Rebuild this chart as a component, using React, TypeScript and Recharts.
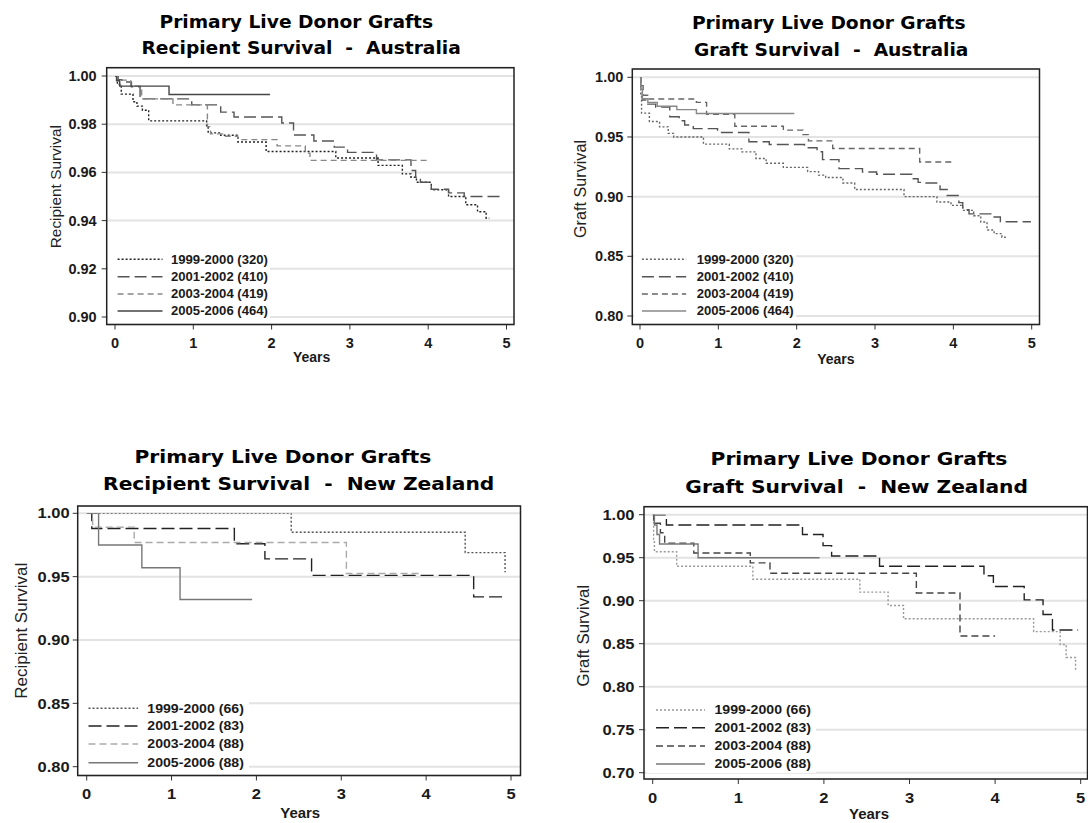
import React from 'react';
import { LineChart, Line, XAxis, YAxis, CartesianGrid, Legend } from 'recharts';

type Pt = [number, number];

// ---------- categories / tick labels ----------
const cohortsAU = ['1999-2000 (320)', '2001-2002 (410)', '2003-2004 (419)', '2005-2006 (464)'];
const cohortsNZ = ['1999-2000 (66)', '2001-2002 (83)', '2003-2004 (88)', '2005-2006 (88)'];
const yearTicks = [0, 1, 2, 3, 4, 5];
const ticksAuRecip = [0.9, 0.92, 0.94, 0.96, 0.98, 1.0];
const ticksAuGraft = [0.8, 0.85, 0.9, 0.95, 1.0];
const ticksNzRecip = [0.8, 0.85, 0.9, 0.95, 1.0];
const ticksNzGraft = [0.7, 0.75, 0.8, 0.85, 0.9, 0.95, 1.0];

// ---------- series: [years, survival] (step-after) ----------
const auRecip1999: Pt[] = [[0, 1], [0.03, 0.9965], [0.08, 0.9925], [0.23, 0.9893], [0.28, 0.9875], [0.35, 0.9858], [0.43, 0.9814], [1.17, 0.9789], [1.19, 0.9764], [1.35, 0.9754], [1.57, 0.9726], [1.93, 0.9687], [2.82, 0.966], [3.36, 0.9629], [3.67, 0.9594], [3.78, 0.958], [3.85, 0.9559], [4.04, 0.9528], [4.26, 0.95], [4.48, 0.9466], [4.63, 0.9437], [4.74, 0.941], [4.78, 0.941]];
const auRecip2001: Pt[] = [[0, 1], [0.04, 0.9985], [0.09, 0.9975], [0.21, 0.9955], [0.32, 0.9905], [0.98, 0.988], [1.35, 0.985], [1.52, 0.983], [2.13, 0.9805], [2.28, 0.9755], [2.54, 0.973], [2.8, 0.9705], [2.97, 0.9683], [3.34, 0.9652], [3.78, 0.9608], [3.84, 0.958], [3.9, 0.9559], [4.04, 0.953], [4.26, 0.9515], [4.46, 0.95], [4.96, 0.95]];
const auRecip2003: Pt[] = [[0, 1], [0.03, 0.9983], [0.2, 0.9958], [0.34, 0.9905], [0.74, 0.988], [1.18, 0.979], [1.22, 0.976], [1.4, 0.975], [1.57, 0.9736], [2.07, 0.971], [2.43, 0.968], [2.49, 0.965], [3.98, 0.965]];
const auRecip2005: Pt[] = [[0, 1], [0.02, 0.998], [0.06, 0.9958], [0.69, 0.9923], [1.98, 0.9923]];

const auGraft1999: Pt[] = [[0, 1], [0.01, 0.985], [0.02, 0.97], [0.12, 0.963], [0.25, 0.9585], [0.36, 0.953], [0.43, 0.95], [0.81, 0.944], [1.14, 0.94], [1.3, 0.9375], [1.48, 0.932], [1.61, 0.928], [1.83, 0.9245], [2.14, 0.921], [2.28, 0.918], [2.37, 0.916], [2.59, 0.9115], [2.74, 0.906], [3.37, 0.9], [3.79, 0.8955], [3.97, 0.8927], [4.12, 0.8885], [4.26, 0.884], [4.35, 0.8787], [4.43, 0.872], [4.52, 0.869], [4.62, 0.866], [4.67, 0.866]];
const auGraft2001: Pt[] = [[0, 1], [0.01, 0.988], [0.03, 0.981], [0.1, 0.9775], [0.2, 0.975], [0.38, 0.967], [0.5, 0.9636], [0.57, 0.96], [0.68, 0.957], [0.99, 0.9538], [1.39, 0.946], [1.65, 0.9437], [2.1, 0.941], [2.26, 0.9376], [2.33, 0.931], [2.54, 0.9235], [2.84, 0.9207], [3.02, 0.9188], [3.47, 0.915], [3.55, 0.912], [3.6, 0.9115], [3.83, 0.906], [3.92, 0.901], [4.07, 0.895], [4.12, 0.889], [4.2, 0.8856], [4.52, 0.883], [4.6, 0.879], [4.99, 0.879]];
const auGraft2003: Pt[] = [[0, 1], [0.01, 0.993], [0.04, 0.985], [0.1, 0.9818], [0.72, 0.979], [0.85, 0.969], [1.21, 0.959], [1.83, 0.9557], [2.08, 0.952], [2.15, 0.9467], [2.46, 0.9403], [3.57, 0.929], [4.0, 0.929]];
const auGraft2005: Pt[] = [[0, 1], [0.01, 0.99], [0.03, 0.982], [0.1, 0.979], [0.22, 0.9757], [0.47, 0.9729], [0.72, 0.9697], [1.97, 0.9697]];

const nzRecip1999: Pt[] = [[0, 1], [2.41, 0.985], [4.46, 0.969], [4.93, 0.954], [4.94, 0.954]];
const nzRecip2001: Pt[] = [[0, 1], [0.06, 0.988], [1.74, 0.976], [2.1, 0.964], [2.65, 0.951], [4.56, 0.934], [4.95, 0.934]];
const nzRecip2003: Pt[] = [[0, 1], [0.07, 0.989], [0.56, 0.977], [3.06, 0.9525], [3.95, 0.9525]];
const nzRecip2005: Pt[] = [[0, 1], [0.14, 0.975], [0.65, 0.957], [1.1, 0.932], [1.95, 0.932]];

const nzGraft1999: Pt[] = [[0, 1], [0.01, 0.97], [0.02, 0.957], [0.28, 0.94], [1.17, 0.925], [2.42, 0.91], [2.75, 0.8945], [2.93, 0.879], [4.45, 0.864], [4.76, 0.849], [4.83, 0.834], [4.94, 0.819], [4.95, 0.819]];
const nzGraft2001: Pt[] = [[0, 1], [0.16, 0.988], [1.75, 0.977], [1.99, 0.964], [2.09, 0.952], [2.65, 0.94], [3.87, 0.929], [3.98, 0.9165], [4.34, 0.901], [4.56, 0.884], [4.67, 0.866], [4.97, 0.866]];
const nzGraft2003: Pt[] = [[0, 1], [0.01, 0.99], [0.09, 0.979], [0.14, 0.967], [0.48, 0.9555], [1.14, 0.944], [1.37, 0.932], [3.08, 0.909], [3.59, 0.859], [4.0, 0.859]];
const nzGraft2005: Pt[] = [[0, 1], [0.02, 0.988], [0.05, 0.977], [0.08, 0.966], [0.53, 0.95], [1.95, 0.95]];

const FONT = '"Liberation Sans", Arial, sans-serif';
const TFONT = '"DejaVu Sans", sans-serif';
const YW = 50;
const XH = 40;

const toRows = (pts: Pt[]) => pts.map(([t, s]) => ({ t, s }));

type Sty = { c: string; d: string };

const panels = [
  {
    key: 'p1',
    box: { left: 0, top: 60, w: 540, h: 320 },
    frame: { L: 106.7, R: 514, T: 67.7, B: 324.5 },
    x0: 115, x5: 506.5, yTop: 76, yBot: 317,
    yDomain: [0.9, 1.0], yTicks: ticksAuRecip,
    series: [auRecip1999, auRecip2001, auRecip2003, auRecip2005],
    names: cohortsAU,
    styles: [{ c: '#222', d: '2 2' }, { c: '#555', d: '12 5' }, { c: '#888', d: '6 4' }, { c: '#444', d: '' }] as Sty[],
    tickFs: 14.5, tickSx: 1, yTickMargin: 5, xTickMargin: 8.5,
    title: ['Primary Live Donor Grafts', 'Recipient Survival  -  Australia'],
    titlePos: [[159.5, 27.7], [141.5, 54.3]], titleFs: 17.5, titleSx: 1.065,
    years: [311.6, 361.7], yearsFs: 14, yearsSx: 1,
    ylab: 'Recipient Survival', ylabPos: [61.1, 186.7], ylabFs: 15.4,
    legend: { x: 108.2, y: 250, w: 162, h: 70, l1: 117.8, l2: 162.7, tx: 171.2, rows: [259.3, 276.7, 294, 311], fs: 12.5, sx: 1.05 },
  },
  {
    key: 'p2',
    box: { left: 540, top: 60, w: 548, h: 320 },
    frame: { L: 632.3, R: 1039.5, T: 69, B: 324.5 },
    x0: 640, x5: 1031.7, yTop: 77.3, yBot: 316,
    yDomain: [0.8, 1.0], yTicks: ticksAuGraft,
    series: [auGraft1999, auGraft2001, auGraft2003, auGraft2005],
    names: cohortsAU,
    styles: [{ c: '#666', d: '2 2' }, { c: '#555', d: '12 5' }, { c: '#666', d: '6 4' }, { c: '#888', d: '' }] as Sty[],
    tickFs: 14.5, tickSx: 1, yTickMargin: 4, xTickMargin: 8.8,
    title: ['Primary Live Donor Grafts', 'Graft Survival  -  Australia'],
    titlePos: [[691.9, 29.2], [694, 55.8]], titleFs: 17.5, titleSx: 1.065,
    years: [835.9, 364], yearsFs: 14, yearsSx: 1,
    ylab: 'Graft Survival', ylabPos: [585.5, 189], ylabFs: 16.2,
    legend: { x: 633.8, y: 250, w: 162, h: 70, l1: 641.7, l2: 686, tx: 696.5, rows: [259.3, 276.7, 294, 311], fs: 12.5, sx: 1.05 },
  },
  {
    key: 'p3',
    box: { left: 0, top: 495, w: 540, h: 328 },
    frame: { L: 77.7, R: 520.5, T: 506, B: 775.5 },
    x0: 86.7, x5: 511, yTop: 513.3, yBot: 766.7,
    yDomain: [0.8, 1.0], yTicks: ticksNzRecip,
    series: [nzRecip1999, nzRecip2001, nzRecip2003, nzRecip2005],
    names: cohortsNZ,
    styles: [{ c: '#555', d: '2 2' }, { c: '#222', d: '13 5' }, { c: '#aaa', d: '7 4' }, { c: '#777', d: '' }] as Sty[],
    tickFs: 15, tickSx: 1.1, yTickMargin: 3.1, xTickMargin: 7.8,
    title: ['Primary Live Donor Grafts', 'Recipient Survival  -  New Zealand'],
    titlePos: [[134.5, 463.4], [103.1, 490]], titleFs: 18.3, titleSx: 1.105,
    years: [300.2, 817.5], yearsFs: 14, yearsSx: 1.07,
    ylab: 'Recipient Survival', ylabPos: [27.1, 630.7], ylabFs: 17,
    legend: { x: 79.2, y: 698, w: 170, h: 74, l1: 88.7, l2: 138.3, tx: 147.5, rows: [708.3, 726, 744, 762.7], fs: 12.5, sx: 1.13 },
  },
  {
    key: 'p4',
    box: { left: 540, top: 495, w: 560, h: 328 },
    frame: { L: 644, R: 1087.5, T: 506.7, B: 779 },
    x0: 652.7, x5: 1080.7, yTop: 514.7, yBot: 772.7,
    yDomain: [0.7, 1.0], yTicks: ticksNzGraft,
    series: [nzGraft1999, nzGraft2001, nzGraft2003, nzGraft2005],
    names: cohortsNZ,
    styles: [{ c: '#999', d: '2 2' }, { c: '#222', d: '13 5' }, { c: '#444', d: '7 4' }, { c: '#777', d: '' }] as Sty[],
    tickFs: 15, tickSx: 1.1, yTickMargin: 4.5, xTickMargin: 9,
    title: ['Primary Live Donor Grafts', 'Graft Survival  -  New Zealand'],
    titlePos: [[710.6, 465], [685.3, 492.7]], titleFs: 18.3, titleSx: 1.105,
    years: [869, 818.5], yearsFs: 14, yearsSx: 1.07,
    ylab: 'Graft Survival', ylabPos: [588.7, 635.7], ylabFs: 16.8,
    legend: { x: 645.5, y: 700, w: 170, h: 73, l1: 655.5, l2: 704.5, tx: 714, rows: [710, 727.7, 746, 764], fs: 12.5, sx: 1.13 },
  },
];

function XTick(props: any) {
  const { x, y, payload, fs, sx } = props;
  return (
    <text transform={`translate(${x},${y + 0.69 * fs}) scale(${sx},1)`} textAnchor="middle"
      fontFamily={FONT} fontWeight="bold" fontSize={fs} fill="#1a1a1a">{String(payload.value)}</text>
  );
}

function YTick(props: any) {
  const { x, y, payload, fs, sx } = props;
  return (
    <text transform={`translate(${x},${y + 0.345 * fs}) scale(${sx},1)`} textAnchor="end"
      fontFamily={FONT} fontWeight="bold" fontSize={fs} fill="#1a1a1a">{Number(payload.value).toFixed(2)}</text>
  );
}

function LegendBox({ p }: { p: any }) {
  const lg = p.legend;
  return (
    <svg width={lg.w} height={lg.h} style={{ display: 'block', background: '#fff' }}>
      {p.names.map((n: string, i: number) => {
        const cy = lg.rows[i] - lg.y;
        const st: Sty = p.styles[i];
        return (
          <g key={n}>
            <line x1={lg.l1 - lg.x} x2={lg.l2 - lg.x} y1={cy} y2={cy} stroke={st.c} strokeWidth={1.4}
              strokeDasharray={st.d || undefined} />
            <text transform={`translate(${lg.tx - lg.x},${cy + 0.345 * lg.fs}) scale(${lg.sx},1)`}
              fontFamily={FONT} fontWeight="bold" fontSize={lg.fs} fill="#1a1a1a">{n}</text>
          </g>
        );
      })}
    </svg>
  );
}

function Panel({ p }: { p: any }) {
  const { box, frame } = p;
  const margin = {
    left: frame.L - box.left - YW,
    top: frame.T - box.top,
    right: box.left + box.w - frame.R,
    bottom: box.top + box.h - frame.B - XH,
  };
  return (
    <div style={{ position: 'absolute', left: box.left, top: box.top, width: box.w, height: box.h }}>
      <LineChart width={box.w} height={box.h} margin={margin}>
        <CartesianGrid vertical={false} stroke="#e3e3e3" strokeWidth={2} />
        <XAxis type="number" dataKey="t" domain={[0, 5]} ticks={yearTicks} interval={0} allowDataOverflow
          axisLine={false} tickLine={{ stroke: '#333' }} tickSize={5} tickMargin={p.xTickMargin} height={XH}
          padding={{ left: p.x0 - frame.L, right: frame.R - p.x5 }}
          tick={(tp: any) => <XTick {...tp} fs={p.tickFs} sx={p.tickSx} />} />
        <YAxis type="number" domain={p.yDomain} ticks={p.yTicks} interval={0} allowDataOverflow
          axisLine={false} tickLine={{ stroke: '#333' }} tickSize={5} tickMargin={p.yTickMargin} width={YW}
          padding={{ top: p.yTop - frame.T, bottom: frame.B - p.yBot }}
          tick={(tp: any) => <YTick {...tp} fs={p.tickFs} sx={p.tickSx} />} />
        {p.series.map((s: Pt[], i: number) => (
          <Line key={p.names[i]} name={p.names[i]} data={toRows(s)} dataKey="s" type="stepAfter"
            stroke={p.styles[i].c} strokeWidth={1.4} strokeDasharray={p.styles[i].d || undefined}
            dot={false} activeDot={false} isAnimationActive={false} />
        ))}
        <Legend layout="vertical" align="center" verticalAlign="middle"
          wrapperStyle={{ left: p.legend.x - box.left, top: p.legend.y - box.top, width: p.legend.w, height: p.legend.h, margin: 0, padding: 0 }}
          content={() => <LegendBox p={p} />} />
      </LineChart>
    </div>
  );
}

function Overlay() {
  return (
    <svg width={1088} height={823} style={{ position: 'absolute', left: 0, top: 0, pointerEvents: 'none' }}>
      {panels.map((p: any) => (
        <g key={p.key}>
          <rect x={p.frame.L} y={p.frame.T} width={p.frame.R - p.frame.L} height={p.frame.B - p.frame.T}
            fill="none" stroke="#222" strokeWidth={1.5} />
          {p.title.map((t: string, i: number) => (
            <text key={i} transform={`translate(${p.titlePos[i][0]},${p.titlePos[i][1]}) scale(${p.titleSx},1)`}
              fontFamily={TFONT} fontWeight="bold" fontSize={p.titleFs} fill="#000" style={{ whiteSpace: 'pre' }}>{t}</text>
          ))}
          <text transform={`translate(${p.years[0]},${p.years[1]}) scale(${p.yearsSx},1)`} textAnchor="middle"
            fontFamily={FONT} fontWeight="bold" fontSize={p.yearsFs} fill="#1a1a1a">Years</text>
          <text transform={`translate(${p.ylabPos[0]},${p.ylabPos[1]}) rotate(-90)`} textAnchor="middle"
            fontFamily={FONT} fontSize={p.ylabFs} fill="#222">{p.ylab}</text>
        </g>
      ))}
    </svg>
  );
}

export default function App() {
  return (
    <div style={{ position: 'absolute', left: 0, top: 0, width: 1088, height: 823, overflow: 'hidden', background: '#fff' }}>
      {panels.map((p) => <Panel key={p.key} p={p} />)}
      <Overlay />
    </div>
  );
}
